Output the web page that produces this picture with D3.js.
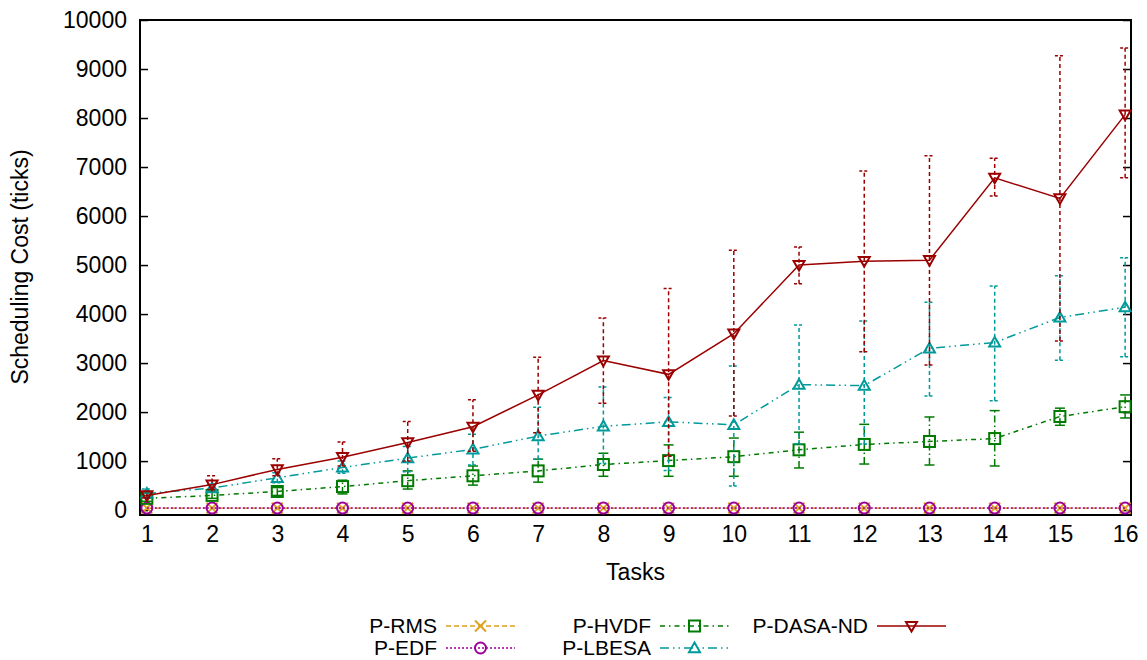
<!DOCTYPE html>
<html>
  <head>
    <meta charset="utf-8" />
    <script src="https://d3js.org/d3.v7.min.js"></script>
    <style>
      body { margin: 0; background: #fff; }
      text { font-family: "Liberation Sans", Arial, sans-serif; }
    </style>
  </head>
  <body>
    <div id="my_chart"></div>
    <script>
      // data
      const tasks = [1, 2, 3, 4, 5, 6, 7, 8, 9, 10, 11, 12, 13, 14, 15, 16];
      const yTicks = [0, 1000, 2000, 3000, 4000, 5000, 6000, 7000, 8000, 9000, 10000];

      const rms = [40, 40, 40, 40, 40, 40, 40, 40, 40, 40, 40, 40, 40, 40, 40, 40];
      const edf = [42, 42, 42, 42, 42, 42, 42, 42, 42, 42, 42, 42, 42, 42, 42, 42];

      const hvdf = [240, 300, 380, 480, 600, 700, 800, 930, 1010, 1090, 1230, 1340, 1400, 1460, 1910, 2110];
      const hvdfLo = [180, 240, 300, 330, 430, 510, 570, 690, 690, 690, 860, 940, 920, 900, 1730, 1880];
      const hvdfHi = [300, 370, 460, 610, 800, 900, 1040, 1160, 1330, 1470, 1590, 1750, 1900, 2030, 2080, 2350];

      const lbesa = [340, 450, 660, 870, 1060, 1240, 1510, 1710, 1800, 1740, 2560, 2540, 3300, 3420, 3930, 4140];
      const lbesaLo = [280, 380, 560, 750, 780, 920, 1040, 950, 810, 490, 1350, 1350, 2330, 2230, 3060, 3130];
      const lbesaHi = [430, 520, 760, 1000, 1300, 1550, 2100, 2510, 2300, 2940, 3775, 3860, 4240, 4570, 4780, 5150];

      const dasa = [300, 520, 830, 1080, 1380, 1700, 2350, 3050, 2770, 3600, 5000, 5080, 5100, 6780, 6360, 8070];
      const dasaLo = [250, 420, 700, 900, 1000, 1200, 1580, 2180, 1100, 1920, 4620, 3230, 2960, 6410, 3450, 6780];
      const dasaHi = [380, 700, 1050, 1390, 1810, 2250, 3120, 3920, 4520, 5300, 5370, 6920, 7230, 7180, 9270, 9430];

      const series = [
        { name: "P-RMS", values: rms, color: "#e0a020", dash: "5,3", errDash: "5,3", marker: "x" },
        { name: "P-EDF", values: edf, color: "#9a009a", dash: "2,2", errDash: "2,2", marker: "circle" },
        { name: "P-HVDF", values: hvdf, lo: hvdfLo, hi: hvdfHi, color: "#007a00", dash: "5,4,1.5,4", errDash: "7,3,1.5,3", marker: "square" },
        { name: "P-LBESA", values: lbesa, lo: lbesaLo, hi: lbesaHi, color: "#009a9a", dash: "9,4,1.5,4,1.5,4", errDash: "4,3", marker: "triangle" },
        { name: "P-DASA-ND", values: dasa, lo: dasaLo, hi: dasaHi, color: "#9b0000", dash: null, errDash: "4,3", marker: "triangleDown" },
      ];

      const fontSize = 23;
      const legendFont = 21;
      const margin = { top: 20, right: 16, bottom: 145, left: 140 },
        width = 1147 - margin.left - margin.right,
        height = 660 - margin.top - margin.bottom;

      const svg = d3
        .select("#my_chart")
        .append("svg")
        .attr("width", 1147)
        .attr("height", 660);

      const g = svg
        .append("g")
        .attr("transform", "translate(" + margin.left + "," + margin.top + ")");

      const x = d3.scaleLinear().domain([0.895, 16.09]).range([0, width]);
      const y = d3.scaleLinear().domain([-100, 10000]).range([height, 0]);

      // y axis left (inward ticks) and right
      const yAxisL = g
        .append("g")
        .call(d3.axisLeft(y).tickValues(yTicks).tickSize(-8).tickPadding(13).tickFormat(d3.format("d")));
      yAxisL.select(".domain").remove();
      yAxisL.selectAll("line").attr("stroke", "#000").attr("stroke-width", 1.5);
      yAxisL.selectAll("text").attr("font-size", fontSize).attr("fill", "#000");

      const yAxisR = g
        .append("g")
        .attr("transform", "translate(" + width + ",0)")
        .call(d3.axisRight(y).tickValues(yTicks).tickSize(-8).tickFormat(""));
      yAxisR.select(".domain").remove();
      yAxisR.selectAll("line").attr("stroke", "#000").attr("stroke-width", 1.5);

      // x axis labels, no tick marks
      const xAxis = g
        .append("g")
        .attr("transform", "translate(0," + height + ")")
        .call(d3.axisBottom(x).tickValues(tasks).tickSize(0).tickPadding(11).tickFormat(d3.format("d")));
      xAxis.select(".domain").remove();
      xAxis.selectAll("text").attr("font-size", fontSize).attr("fill", "#000");

      // border
      g.append("rect")
        .attr("width", width)
        .attr("height", height)
        .attr("fill", "none")
        .attr("stroke", "#000")
        .attr("stroke-width", 2);

      // axis titles
      g.append("text")
        .attr("x", width / 2)
        .attr("y", height + 65)
        .attr("text-anchor", "middle")
        .attr("font-size", fontSize)
        .text("Tasks");
      svg
        .append("text")
        .attr("transform", "translate(28,267) rotate(-90)")
        .attr("text-anchor", "middle")
        .attr("font-size", fontSize)
        .text("Scheduling Cost (ticks)");

      function drawMarker(sel, type, color) {
        const s = 5.5;
        if (type === "x") {
          sel.append("path").attr("d", `M${-s},${-s}L${s},${s}M${-s},${s}L${s},${-s}`);
        } else if (type === "circle") {
          sel.append("circle").attr("r", s);
        } else if (type === "square") {
          sel.append("rect").attr("x", -s).attr("y", -s).attr("width", 2 * s).attr("height", 2 * s);
        } else if (type === "triangle") {
          sel.append("path").attr("d", `M0,${-s}L${s},${s * 0.75}L${-s},${s * 0.75}Z`);
        } else {
          sel.append("path").attr("d", `M0,${s}L${s},${-s * 0.75}L${-s},${-s * 0.75}Z`);
        }
        sel.selectAll("*").attr("fill", "none").attr("stroke", color).attr("stroke-width", 2);
      }

      const line = d3
        .line()
        .x((d, i) => x(tasks[i]))
        .y((d) => y(d));

      series.forEach((s) => {
        const sg = g.append("g");
        // error bars
        if (s.lo) {
          tasks.forEach((t, i) => {
            const cx = x(t);
            sg.append("line")
              .attr("x1", cx).attr("x2", cx)
              .attr("y1", y(s.lo[i])).attr("y2", y(s.hi[i]))
              .attr("stroke", s.color).attr("stroke-width", 1.5)
              .attr("stroke-dasharray", s.errDash);
            [s.lo[i], s.hi[i]].forEach((v) => {
              sg.append("line")
                .attr("x1", cx - 5).attr("x2", cx + 5)
                .attr("y1", y(v)).attr("y2", y(v))
                .attr("stroke", s.color).attr("stroke-width", 1.5)
                .attr("stroke-dasharray", s.errDash === "4,3" ? "3,2" : null);
            });
          });
        }
        sg.append("path")
          .datum(s.values)
          .attr("fill", "none")
          .attr("stroke", s.color)
          .attr("stroke-width", 1.5)
          .attr("stroke-dasharray", s.dash)
          .attr("d", line);
        s.values.forEach((v, i) => {
          const m = sg.append("g").attr("transform", `translate(${x(tasks[i])},${y(v)})`);
          drawMarker(m, s.marker, s.color);
        });
      });

      // legend
      const legendPos = [
        { tx: 437, ty: 626 },
        { tx: 437, ty: 648 },
        { tx: 651, ty: 626 },
        { tx: 651, ty: 648 },
        { tx: 868, ty: 626 },
      ];
      series.forEach((s, i) => {
        const p = legendPos[i];
        svg.append("text")
          .attr("x", p.tx)
          .attr("y", p.ty + 7)
          .attr("text-anchor", "end")
          .attr("font-size", legendFont)
          .text(s.name);
        svg.append("line")
          .attr("x1", p.tx + 9).attr("x2", p.tx + 78)
          .attr("y1", p.ty).attr("y2", p.ty)
          .attr("stroke", s.color).attr("stroke-width", 1.5)
          .attr("stroke-dasharray", s.dash);
        const m = svg.append("g").attr("transform", `translate(${p.tx + 43.5},${p.ty})`);
        drawMarker(m, s.marker, s.color);
      });
    </script>
  </body>
</html>
